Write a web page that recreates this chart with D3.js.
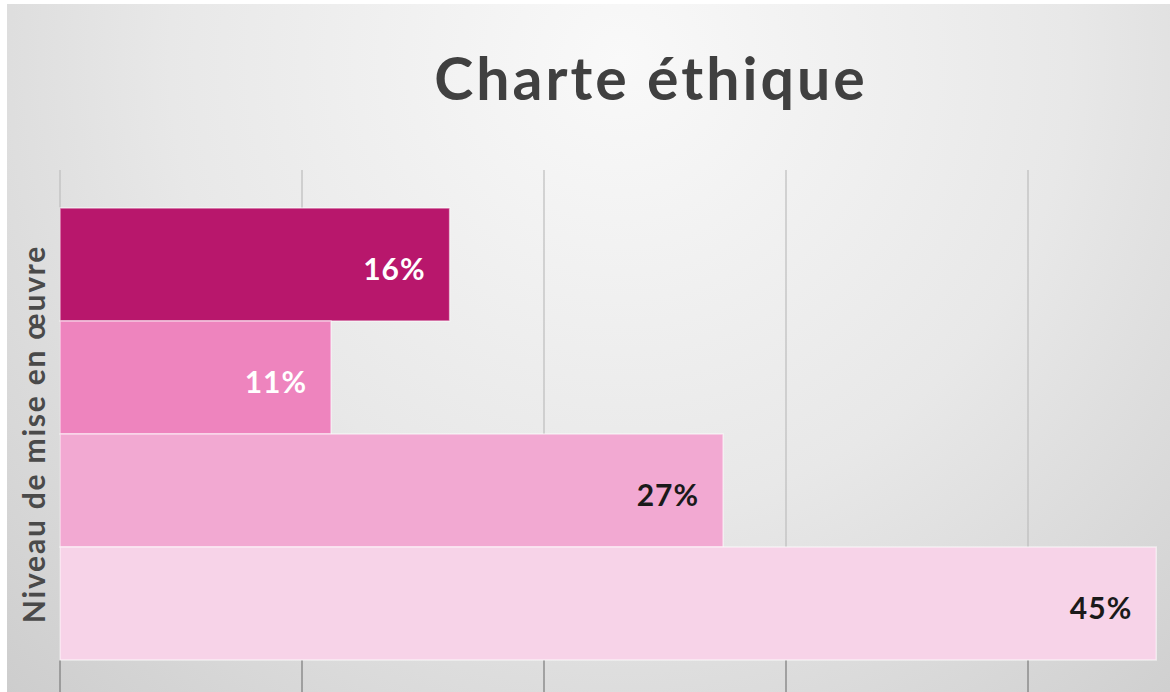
<!DOCTYPE html>
<html>
<head>
<meta charset="utf-8">
<script src="https://cdn.jsdelivr.net/npm/d3@7"></script>
<style>
  html, body { margin: 0; padding: 0; background: #ffffff; }
  svg { display: block; }
</style>
</head>
<body>
<svg id="chart" width="1170" height="692"></svg>
<script>
// ---- Data ----
const title = "Charte éthique";
const axisTitle = "Niveau de mise en œuvre";
const categories = ["Niveau 1", "Niveau 2", "Niveau 3", "Niveau 4"];
const values = [16.1, 11.2, 27.4, 45.3];
const valueLabels = ["16%", "11%", "27%", "45%"];
const barColors = ["#b8176c", "#ee84be", "#f2a9d2", "#f7d3e8"];
const labelColors = ["#ffffff", "#ffffff", "#1a1a1a", "#1a1a1a"];
const gridTicks = [0, 10, 20, 30, 40, 50];

// ---- Layout ----
const W = 1170, H = 692;
const plot = { left: 60, top: 208, bottom: 660, gridTop: 170 };
const svg = d3.select("#chart");

// background
const defs = svg.append("defs");
const rg = defs.append("radialGradient")
  .attr("id", "bg").attr("gradientUnits", "userSpaceOnUse")
  .attr("cx", 620).attr("cy", 60).attr("r", 900);
rg.append("stop").attr("offset", "0").attr("stop-color", "#f9f9f9");
rg.append("stop").attr("offset", "0.5").attr("stop-color", "#e8e8e8");
rg.append("stop").attr("offset", "1").attr("stop-color", "#cccccc");

svg.append("rect").attr("width", W).attr("height", H).attr("fill", "#ffffff");
svg.append("rect").attr("x", 7).attr("y", 4).attr("width", W - 7).attr("height", H - 4).attr("fill", "url(#bg)");

// scales
const x = d3.scaleLinear().domain([0, 50]).range([plot.left, plot.left + 50 * 24.2]);
const y = d3.scaleBand().domain(categories).range([plot.top, plot.bottom]).padding(0);

// gridlines (upper light part)
const g = svg.append("g");
g.selectAll("line.grid").data(gridTicks).join("line")
  .attr("class", "grid")
  .attr("x1", d => x(d)).attr("x2", d => x(d))
  .attr("y1", plot.gridTop).attr("y2", plot.bottom)
  .attr("stroke", "#bdbdbd").attr("stroke-width", 1.2);
// lower darker part (below plot area)
g.selectAll("line.tick").data(gridTicks).join("line")
  .attr("class", "tick")
  .attr("x1", d => x(d)).attr("x2", d => x(d))
  .attr("y1", plot.bottom).attr("y2", H)
  .attr("stroke", "#7a7a7a").attr("stroke-width", 1.2);

// bars
svg.append("g").selectAll("rect").data(values).join("rect")
  .attr("x", x(0))
  .attr("y", (d, i) => y(categories[i]))
  .attr("width", d => x(d) - x(0))
  .attr("height", y.bandwidth())
  .attr("fill", (d, i) => barColors[i])
  .attr("stroke", "rgba(255,255,255,0.55)")
  .attr("stroke-width", 1.5);

// value labels
svg.append("g").selectAll("text").data(values).join("text")
  .attr("x", d => x(d) - 24)
  .attr("y", (d, i) => y(categories[i]) + y.bandwidth() / 2 + 3)
  .attr("text-anchor", "end")
  .attr("dominant-baseline", "central")
  .attr("font-family", "Lato, 'Open Sans', sans-serif")
  .attr("font-weight", "bold")
  .attr("font-size", 30)
  .attr("letter-spacing", 1)
  .attr("fill", (d, i) => labelColors[i])
  .text((d, i) => valueLabels[i]);

// title
svg.append("text")
  .attr("x", 651).attr("y", 100)
  .attr("text-anchor", "middle")
  .attr("font-family", "Lato, 'Open Sans', sans-serif")
  .attr("font-weight", "bold")
  .attr("font-size", 59)
  .attr("letter-spacing", 3)
  .attr("fill", "#404040")
  .text(title);

// axis title
svg.append("text")
  .attr("transform", `translate(${45},${(plot.top + plot.bottom) / 2}) rotate(-90)`)
  .attr("text-anchor", "middle")
  .attr("font-family", "Lato, 'Open Sans', sans-serif")
  .attr("font-weight", "bold")
  .attr("font-size", 30)
  .attr("letter-spacing", 1.8)
  .attr("fill", "#4a4a4a")
  .text(axisTitle);
</script>
</body>
</html>
